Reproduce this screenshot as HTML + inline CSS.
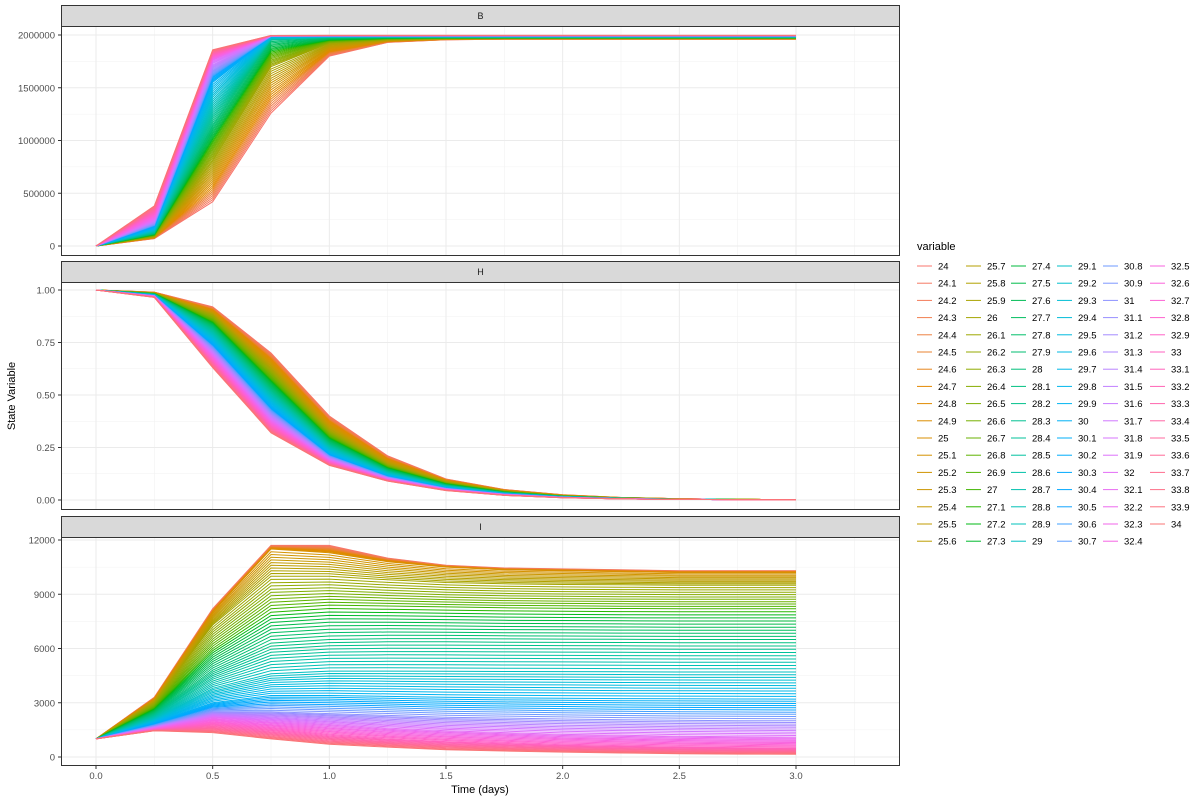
<!DOCTYPE html>
<html><head><meta charset="utf-8">
<style>
body{margin:0;background:#fff;}
svg text{font-family:"Liberation Sans",Arial,sans-serif;}
</style></head>
<body>
<svg id="chart" width="1200" height="800" viewBox="0 0 1200 800" xmlns="http://www.w3.org/2000/svg">
<rect width="1200" height="800" fill="#fff"/>
</svg>
<script>
// ---- data ----
const times = [0,0.25,0.5,0.75,1,1.25,1.5,1.75,2,2.25,2.5,2.75,3];
const temps = [];
for (let i = 0; i <= 100; i++) temps.push(+(24 + i*0.1).toFixed(1));
// anchor temperatures
const bAnchorTemps = [24,26,28,30,32,34];
const bT24 = [0,70000,420000,1260000,1800000,1930000,1955000,1960000,1960000,1960000,1960000,1960000,1960000];
const bT26 = [0,90000,800000,1700000,1920000,1955000,1965000,1968000,1968000,1968000,1968000,1968000,1968000];
const bT28 = [0,120000,1150000,1950000,1975000,1978000,1978000,1978000,1978000,1978000,1978000,1978000,1978000];
const bT30 = [0,170000,1550000,1985000,1988000,1988000,1988000,1988000,1988000,1988000,1988000,1988000,1988000];
const bT32 = [0,250000,1760000,1992000,1993000,1993000,1993000,1993000,1993000,1993000,1993000,1993000,1993000];
const bT34 = [0,380000,1860000,1995000,1996000,1996000,1996000,1996000,1996000,1996000,1996000,1996000,1996000];
const hAnchorTemps = [24,26,28,30,32,34];
const hT24 = [1,.99,.92,.70,.40,.21,.10,.05,.025,.012,.006,.003,.002];
const hT26 = [1,.985,.88,.62,.33,.17,.085,.042,.02,.01,.005,.003,.002];
const hT28 = [1,.98,.82,.53,.27,.14,.07,.035,.017,.008,.004,.002,.001];
const hT30 = [1,.975,.75,.45,.22,.115,.058,.03,.014,.007,.003,.002,.001];
const hT32 = [1,.97,.69,.38,.19,.10,.05,.025,.012,.006,.003,.002,.001];
const hT34 = [1,.965,.63,.32,.165,.09,.045,.022,.011,.005,.003,.002,.001];
const iAnchorTemps = [24,25,26,27,28,29,30,31,32,33,34];
const iT24 = [1000,3300,8200,11700,11700,11000,10600,10450,10400,10350,10300,10300,10300];
const iT25 = [1000,3200,8000,11500,11300,10800,10500,10350,10300,10250,10200,10200,10200];
const iT26 = [1000,3000,7300,10000,10000,9800,9650,9580,9540,9520,9500,9500,9500];
const iT27 = [1000,2700,6000,8200,8400,8350,8300,8250,8230,8210,8200,8200,8200];
const iT28 = [1000,2400,4800,6300,6500,6550,6550,6530,6520,6510,6500,6500,6500];
const iT29 = [1000,2100,3800,4600,4750,4750,4740,4730,4720,4710,4700,4700,4700];
const iT30 = [1000,1900,3000,3400,3400,3350,3300,3270,3250,3230,3220,3210,3200];
const iT31 = [1000,1700,2500,2500,2400,2300,2200,2150,2100,2060,2030,2010,2000];
const iT32 = [1000,1600,2200,2000,1800,1600,1450,1350,1250,1200,1150,1120,1100];
const iT33 = [1000,1500,1800,1500,1200,1000,850,750,650,600,550,520,500];
const iT34 = [1000,1450,1350,1000,700,550,400,330,270,220,180,160,150];
const xTicks = [0,0.5,1,1.5,2,2.5,3];
const xTickLabels = ["0.0","0.5","1.0","1.5","2.0","2.5","3.0"];
const bTicks = [0,500000,1000000,1500000,2000000];
const hTicks = [0,0.25,0.5,0.75,1];
const hTickLabels = ["0.00","0.25","0.50","0.75","1.00"];
const iTicks = [0,3000,6000,9000,12000];

const NS = "http://www.w3.org/2000/svg";
const svg = document.getElementById('chart');
function mk(tag, attrs, parent){const e=document.createElementNS(NS,tag);for(const k in attrs)e.setAttribute(k,attrs[k]);(parent||svg).appendChild(e);return e;}

function hcl(h,c,l){
  const Xn=95.047,Yn=100,Zn=108.883;
  const hr=h*Math.PI/180,U=c*Math.cos(hr),V=c*Math.sin(hr);
  const Y=l>8?Math.pow((l+16)/116,3)*Yn:Yn*l/903.3;
  const un=4*Xn/(Xn+15*Yn+3*Zn),vn=9*Yn/(Xn+15*Yn+3*Zn);
  const up=U/(13*l)+un,vp=V/(13*l)+vn;
  const X=Y*9*up/(4*vp),Z=Y*(12-3*up-20*vp)/(4*vp);
  const x=X/100,y=Y/100,z=Z/100;
  let r=3.2404542*x-1.5371385*y-0.4985314*z;
  let g=-0.9692660*x+1.8760108*y+0.0415560*z;
  let b=0.0556434*x-0.2040259*y+1.0572252*z;
  const gm=v=>{v=v<=0.0031308?12.92*v:1.055*Math.pow(v,1/2.4)-0.055;return Math.round(Math.max(0,Math.min(1,v))*255);};
  return `rgb(${gm(r)},${gm(g)},${gm(b)})`;
}
const n=temps.length;
const colors=temps.map((t,i)=>hcl(15+360*i/n,100,65));

function series(anchorTemps, anchors, temp){
  let k=0; while(k<anchorTemps.length-2 && temp>anchorTemps[k+1]) k++;
  const f=(temp-anchorTemps[k])/(anchorTemps[k+1]-anchorTemps[k]);
  return anchors[k].map((v,j)=>v+(anchors[k+1][j]-v)*f);
}

const px0=61, px1=900;
const xs = t => 96 + t*(700/3);

const panels = [
  {name:'B', strip:[5,26], plot:[26,256], y:v=>246 - v*(211/2000000), ticks:bTicks, labels:bTicks.map(String), minorStep:250000, max:2200000,
   at:bAnchorTemps, an:[bT24,bT26,bT28,bT30,bT32,bT34]},
  {name:'H', strip:[261,282], plot:[282,510], y:v=>500 - v*210, ticks:hTicks, labels:hTickLabels, minorStep:0.125, max:1.05,
   at:hAnchorTemps, an:[hT24,hT26,hT28,hT30,hT32,hT34]},
  {name:'I', strip:[516,537], plot:[537,766], y:v=>757 - v*(217/12000), ticks:iTicks, labels:iTicks.map(String), minorStep:1500, max:12400,
   at:iAnchorTemps, an:[iT24,iT25,iT26,iT27,iT28,iT29,iT30,iT31,iT32,iT33,iT34]}
];

panels.forEach(p=>{
  const g=mk('g',{});
  
  
  const [t,b]=p.plot;
  // minor grid
  for(let v=p.minorStep/1; v<p.max; v+=p.minorStep*2){
    const yy=p.y(v); if(yy>t&&yy<b) mk('line',{x1:px0,x2:px1,y1:yy,y2:yy,stroke:'#F2F2F2','stroke-width':0.6},g);
  }
  for(let x=0.25;x<3.5;x+=0.5) mk('line',{x1:xs(x),x2:xs(x),y1:t,y2:b,stroke:'#F2F2F2','stroke-width':0.6},g);
  p.ticks.forEach(v=>{const yy=p.y(v);mk('line',{x1:px0,x2:px1,y1:yy,y2:yy,stroke:'#EBEBEB','stroke-width':1},g);});
  xTicks.forEach(x=>mk('line',{x1:xs(x),x2:xs(x),y1:t,y2:b,stroke:'#EBEBEB','stroke-width':1},g));
  // series
  temps.forEach((tp,i)=>{
    const vals=series(p.at,p.an,tp);
    const d=vals.map((v,j)=>(j?'L':'M')+xs(times[j]).toFixed(1)+','+p.y(v).toFixed(1)).join('');
    const path=mk('path',{d:d,fill:'none',stroke:colors[i],'stroke-width':1},g);
    
    
  });
  mk('rect',{x:px0+0.5,y:t+0.5,width:px1-px0-1,height:b-t-1,fill:'none',stroke:'#333','stroke-width':1},g);
  // strip
  const s=mk('rect',{x:px0+0.5,y:p.strip[0]+0.5,width:px1-px0-1,height:p.strip[1]-p.strip[0],fill:'#D9D9D9',stroke:'#333','stroke-width':1},g);
  
  
  const st=mk('text',{x:(px0+px1)/2,y:(p.strip[0]+p.strip[1])/2+3.5,'text-anchor':'middle','font-size':9,fill:'#1A1A1A'},g);
  st.textContent=p.name;
  
  
  // y ticks
  p.ticks.forEach((v,k)=>{
    const yy=p.y(v);
    mk('line',{x1:58,x2:61,y1:yy,y2:yy,stroke:'#333','stroke-width':1},g);
    const tx=mk('text',{x:55,y:yy+3.5,'text-anchor':'end','font-size':9.5,fill:'#4D4D4D'},g);
    tx.textContent=p.labels[k];
    
    
  });
});
// x axis
xTicks.forEach((x,k)=>{
  mk('line',{x1:xs(x),x2:xs(x),y1:766,y2:769,stroke:'#333','stroke-width':1});
  const tx=mk('text',{x:xs(x),y:779,'text-anchor':'middle','font-size':9.5,fill:'#4D4D4D'});
  tx.textContent=xTickLabels[k];
  
  
});
const xt=mk('text',{x:480,y:793,'text-anchor':'middle','font-size':11,fill:'#000'});
xt.textContent='Time (days)';


const yt=mk('text',{x:0,y:0,transform:'translate(15,396) rotate(-90)','text-anchor':'middle','font-size':11,fill:'#000'});
yt.textContent='State Variable';


// legend
const lg=mk('g',{});


const lt=mk('text',{x:917,y:250,'font-size':11,fill:'#000'},lg);
lt.textContent='variable';


const colX=[917,966,1011,1057,1103,1150];
temps.forEach((tp,i)=>{
  const c=Math.floor(i/17), r=i%17;
  const y=266+r*17.2;
  const e=mk('g',{},lg);
  
  
  mk('line',{x1:colX[c],x2:colX[c]+15,y1:y,y2:y,stroke:colors[i],'stroke-width':1},e);
  const t=mk('text',{x:colX[c]+21,y:y+3.5,'font-size':9.5,fill:'#000'},e);
  t.textContent=String(tp);
});
</script>
</body></html>
